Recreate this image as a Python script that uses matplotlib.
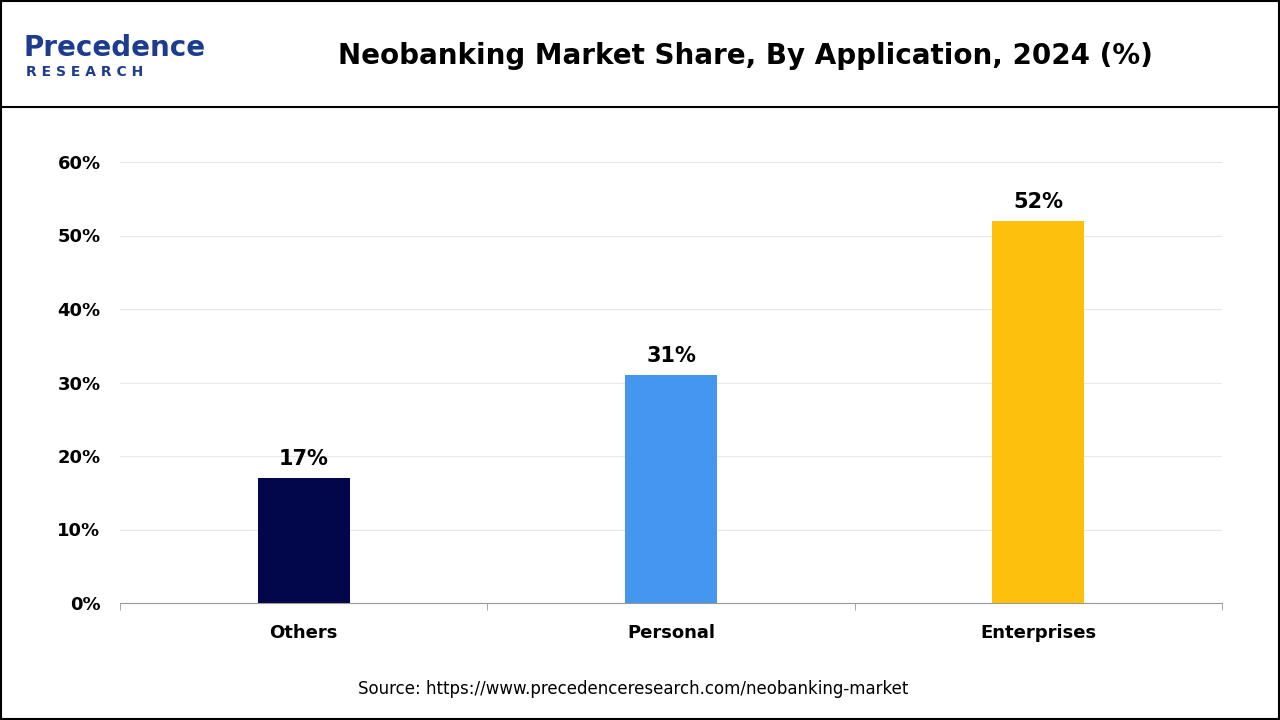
import matplotlib.pyplot as plt
from matplotlib.patches import Rectangle
from matplotlib.ticker import FixedLocator

categories = ["Others", "Personal", "Enterprises"]
shares = [17, 31, 52]
bar_colors = ["#02064a", "#4596ee", "#fdc10d"]
y_ticks = [0, 10, 20, 30, 40, 50, 60]

fig = plt.figure(figsize=(12.8, 7.2), dpi=100)

# outer frame and header rule
fig.patches.append(Rectangle((0.001, 0.001), 0.998, 0.998, transform=fig.transFigure,
                             fill=False, edgecolor="black", linewidth=1.5))
fig.add_artist(plt.Line2D([0, 1], [1 - 107 / 720] * 2, color="black", linewidth=1.5))

fig.text(0.582, 1 - 56 / 720, "Neobanking Market Share, By Application, 2024 (%)",
         ha="center", va="center", fontsize=20, fontweight="bold", family="DejaVu Sans")
fig.text(0.018, 1 - 48 / 720, "Precedence", ha="left", va="center", fontsize=20,
         color="#1d3c8f", fontweight="bold", family="DejaVu Sans")
fig.text(0.02, 1 - 72 / 720, "R E S E A R C H", ha="left", va="center", fontsize=10,
         color="#1d3c8f", fontweight="bold", family="DejaVu Sans")

ax = fig.add_axes([120 / 1280, 1 - 603 / 720, 1102 / 1280, 441 / 720])
x = range(len(categories))
ax.bar(x, shares, width=0.25, color=bar_colors)
for i, v in enumerate(shares):
    ax.text(i, v + 1.2, f"{v}%", ha="center", va="bottom", fontsize=15, fontweight="bold")

ax.set_xlim(-0.5, 2.5)
ax.set_ylim(0, 60)
ax.set_yticks(y_ticks)
ax.set_yticklabels([f"{t}%" for t in y_ticks], fontsize=13, fontweight="bold")
ax.set_xticks(list(x))
ax.set_xticklabels(categories, fontsize=13, fontweight="bold")
ax.xaxis.set_minor_locator(FixedLocator([-0.5, 0.5, 1.5, 2.5]))
ax.tick_params(axis="x", which="major", length=0, pad=15)
ax.tick_params(axis="x", which="minor", length=5, color="#999999")
ax.tick_params(axis="y", length=0, pad=14)
ax.grid(axis="y", color="#e8e8e8", linewidth=0.8)
ax.set_axisbelow(True)
for s in ["top", "right", "left"]:
    ax.spines[s].set_visible(False)
ax.spines["bottom"].set_color("#999999")

fig.text(0.495, 1 - 689 / 720, "Source: https://www.precedenceresearch.com/neobanking-market",
         ha="center", va="center", fontsize=12)

fig.savefig("out.png", dpi=100)
